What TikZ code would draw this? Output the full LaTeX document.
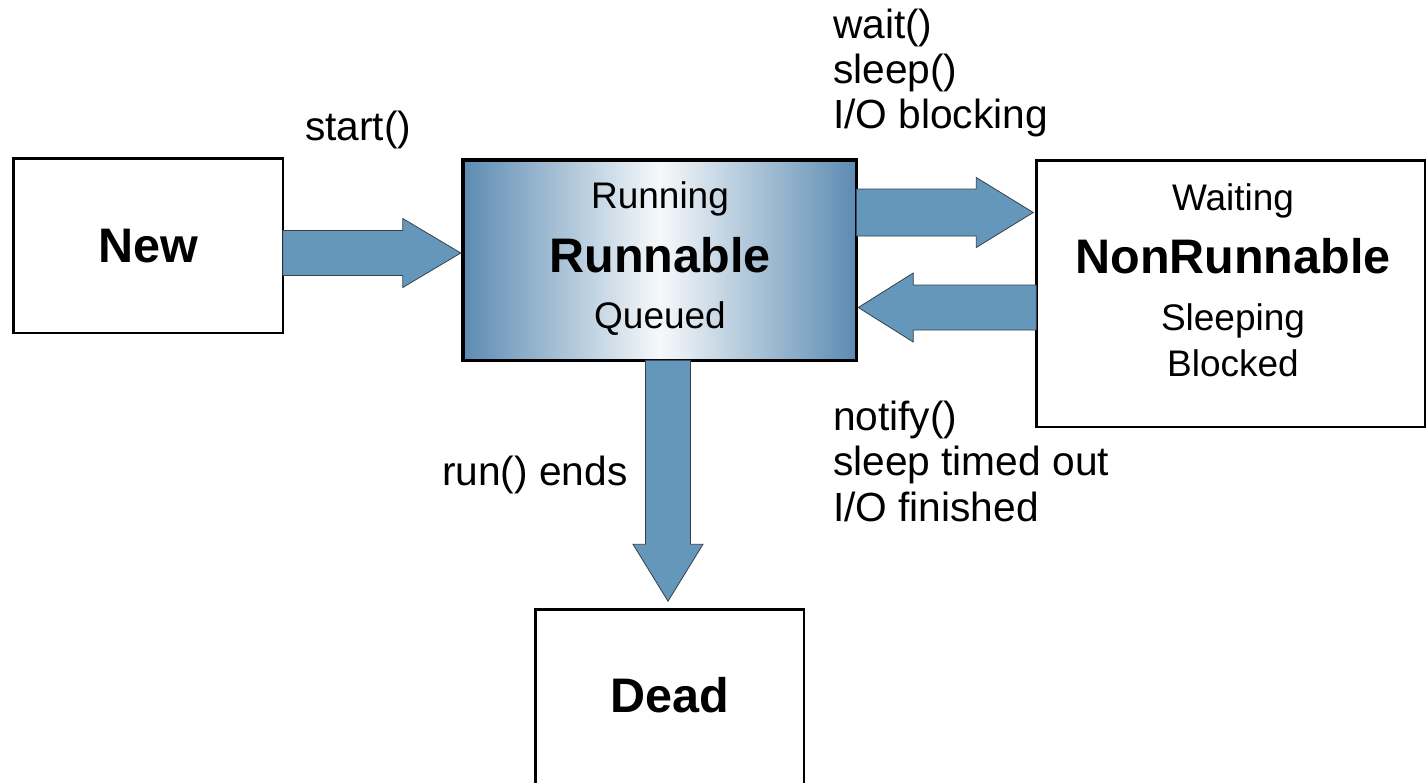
\documentclass[tikz,border=0pt]{standalone}
\usepackage{fontspec}
\setmainfont{Liberation Sans}
\usetikzlibrary{calc}

\definecolor{flowblue}{RGB}{101,151,187}
\definecolor{flowedge}{RGB}{55,65,75}
\definecolor{shadeblue}{RGB}{92,139,178}
\definecolor{shadelight}{RGB}{246,249,251}

\newcommand\labelfont{\fontsize{40.7}{45}\selectfont}
\newcommand\minorfont{\fontsize{37}{40}\selectfont}
\newcommand\majorfont{\fontsize{48.5}{52}\selectfont\bfseries}

% Block arrow from #1 to #2: half shaft width, half head width, head length
\newcommand\blockarrow[5]{%
  \coordinate (ba-h) at ($(#2)!#5!(#1)$);
  \filldraw[arrowbody]
    ($(#1)!#3!90:(#2)$) -- ($(ba-h)!#3!90:(#2)$) -- ($(ba-h)!#4!90:(#2)$)
    -- (#2)
    -- ($(ba-h)!#4!-90:(#2)$) -- ($(ba-h)!#3!-90:(#2)$) -- ($(#1)!#3!-90:(#2)$)
    -- cycle;
}

\tikzset{
  statebox/.style={draw=black, line width=2.5pt, fill=white, inner sep=0pt, outer sep=0pt},
  activebox/.style={draw=black, line width=3.5pt, inner sep=0pt, outer sep=0pt,
    left color=shadeblue, right color=shadeblue, middle color=shadelight},
  arrowbody/.style={fill=flowblue, draw=flowedge, line width=0.8pt, line join=miter},
  txt/.style={anchor=base, inner sep=0pt, outer sep=0pt},
  lbl/.style={anchor=base west, inner sep=0pt, outer sep=0pt, font=\labelfont},
}

\begin{document}
\begin{tikzpicture}[x=1pt, y=-1pt]
  \useasboundingbox (0,0) rectangle (1427,782);

  % states
  \node[statebox, minimum width=269.5pt, minimum height=174.5pt] (new) at (148,245.5) {};
  \node[activebox, minimum width=393.5pt, minimum height=200.5pt] (run) at (659.5,260) {};
  \node[statebox, minimum width=388.5pt, minimum height=266.5pt] (nonrun) at (1230.5,293.5) {};
  \node[statebox, minimum width=268.5pt, minimum height=180pt] (dead) at (669.5,699.25) {};

  % state texts
  \node[txt, font=\majorfont] (newtxt) at (148,262) {New};
  \node[txt, font=\minorfont] (runa) at (660,208) {Running};
  \node[txt, font=\majorfont] (runb) at (660,272) {Runnable};
  \node[txt, font=\minorfont] (runc) at (660,328) {Queued};
  \node[txt, font=\minorfont] (nra) at (1233,210) {Waiting};
  \node[txt, font=\majorfont] (nrb) at (1233,273) {NonRunnable};
  \node[txt, font=\minorfont] (nrc) at (1233,330) {Sleeping};
  \node[txt, font=\minorfont] (nrd) at (1233,376) {Blocked};
  \node[txt, font=\majorfont] (deadtxt) at (670,712) {Dead};

  % transition end points
  \coordinate (a1s) at ($(new.east)+(0,7.5)$);
  \coordinate (a1e) at ($(run.west)+(-2,-7)$);
  \coordinate (a2s) at ($(run.east)+(0,-47.5)$);
  \coordinate (a2e) at ($(nonrun.west)+(-3,-81)$);
  \coordinate (a3s) at ($(nonrun.west)+(0,14)$);
  \coordinate (a3e) at ($(run.east)+(2,47.5)$);
  \coordinate (a4s) at ($(run.south)+(8.5,0)$);
  \coordinate (a4e) at ($(dead.north)+(-1.5,-8)$);

  % transitions
  \blockarrow{a1s}{a1e}{22.5pt}{34.5pt}{58pt}
  \blockarrow{a2s}{a2e}{23.5pt}{35pt}{57pt}
  \blockarrow{a3s}{a3e}{22.5pt}{34.5pt}{55pt}
  \blockarrow{a4s}{a4e}{22.5pt}{35pt}{57pt}

  % transition labels
  \node[lbl] (lstart) at (305,140) {start()};
  \node[lbl] (lwait) at (833,38) {wait()};
  \node[lbl] (lsleep) at (833,83) {sleep()};
  \node[lbl] (lio) at (833,128) {I/O blocking};
  \node[lbl] (lnotify) at (833,430) {notify()};
  \node[lbl] (ltimed) at (833,475) {sleep timed out};
  \node[lbl] (lfin) at (833,521) {I/O finished};
  \node[lbl] (lends) at (442,485) {run() ends};
\end{tikzpicture}
\end{document}
